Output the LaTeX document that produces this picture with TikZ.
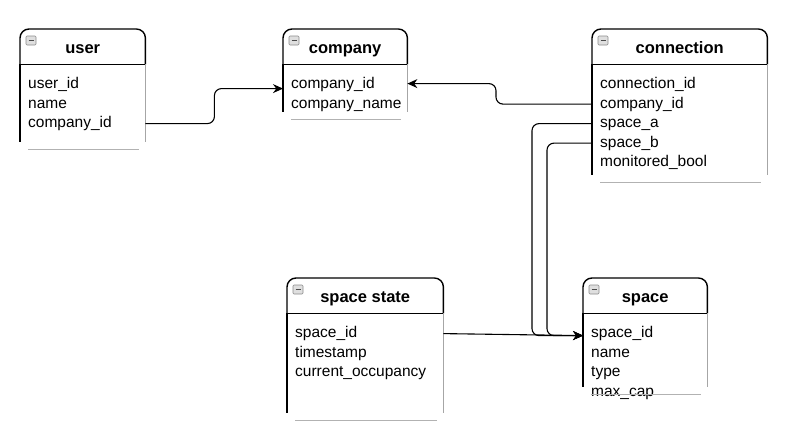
\documentclass[tikz,border=0pt]{standalone}
\usepackage{fontspec}
\setmainfont{Liberation Sans}
\usetikzlibrary{arrows.meta, calc, positioning}
\tikzset{ERD/.style={
    x=1pt, y=-1pt,
    head/.style = {anchor=north west, minimum height=35pt, inner sep=0pt, text height=14pt, text depth=0pt, font=\bfseries\fontsize{16.5}{18}\selectfont},
    row/.style = {anchor=north west, minimum height=19.5pt, inner xsep=8pt, inner ysep=0pt, text height=11pt, text depth=3pt, align=left, font=\fontsize{15.5}{18}\selectfont},
    frame/.style = {line width=1.4pt, rounded corners=9pt},
    lside/.style = {line width=1.2pt},
    rside/.style = {line width=0.8pt, gray!70},
    foot/.style = {line width=0.8pt, gray!60},
    icon/.style = {draw=gray!90, fill=gray!25, line width=0.6pt, rounded corners=1pt},
    link/.style = {line width=1.1pt, rounded corners=7pt, -{Stealth[length=10pt, width=9pt]}}
}}

\begin{document}
\begin{tikzpicture}[ERD]
        \useasboundingbox (0,0) rectangle (796,434);

        % table heads
        \node[head, minimum width=125pt] (user) at (20,29) {user};
        \node[head, minimum width=124pt] (company) at (283,29) {company};
        \node[head, minimum width=175pt] (conn) at (592,29) {connection};
        \node[head, minimum width=156pt] (state) at (287,278) {space state};
        \node[head, minimum width=124pt] (space) at (583,278) {space};

        % fields
        \foreach \txt [count=\i] in {user\_id, name, company\_id}
            \node[row, text width=109pt] (user-\i) at ($(user.south west)+(0,19.5*\i-9.25)$) {\txt};
        \foreach \txt [count=\i] in {company\_id, company\_name}
            \node[row, text width=108pt] (company-\i) at ($(company.south west)+(0,19.5*\i-9.25)$) {\txt};
        \foreach \txt [count=\i] in {connection\_id, company\_id, space\_a, space\_b, monitored\_bool}
            \node[row, text width=159pt] (conn-\i) at ($(conn.south west)+(0,19.5*\i-9.25)$) {\txt};
        \foreach \txt [count=\i] in {space\_id, timestamp, current\_occupancy}
            \node[row, text width=140pt] (state-\i) at ($(state.south west)+(0,19.5*\i-9.25)$) {\txt};
        \foreach \txt [count=\i] in {space\_id, name, type, max\_cap}
            \node[row, text width=108pt] (space-\i) at ($(space.south west)+(0,19.5*\i-9.25)$) {\txt};

        % table outlines
        \foreach \t/\h in {user/78, company/48, conn/111, state/100, space/74} {
            \draw[frame] (\t.south west) -- (\t.north west) -- (\t.north east) -- (\t.south east);
            \draw[line width=1.4pt] (\t.south west) -- (\t.south east);
            \draw[lside] (\t.south west) -- ++(0,\h);
            \draw[rside] (\t.south east) -- ++(0,\h);
            \draw[foot] ($(\t.south west)+(8,\h+7)$) -- ($(\t.south east)+(-6,\h+7)$);
            \draw[icon] ($(\t.north west)+(6,7)$) rectangle ++(10,9);
            \draw[gray!60!black, line width=1.2pt] ($(\t.north west)+(8.5,11.5)$) -- ++(5,0);
        }

        % relations
        \draw[link] (user-3.east) -- ++(69,0) |- ([yshift=-4pt]company-1.west);
        \draw[link] (conn-2.west) -- ++(-96,0) |- ([yshift=1pt]company-1.east);
        \draw[link] (conn-3.west) -- ++(-60,0) |- ([yshift=-2pt]space-1.west);
        \draw[link] (conn-4.west) -- ++(-45,0) |- ([yshift=-2pt]space-1.west);
        \draw[link] (state-1.east) -- ([yshift=-2pt]space-1.west);
\end{tikzpicture}
\end{document}
